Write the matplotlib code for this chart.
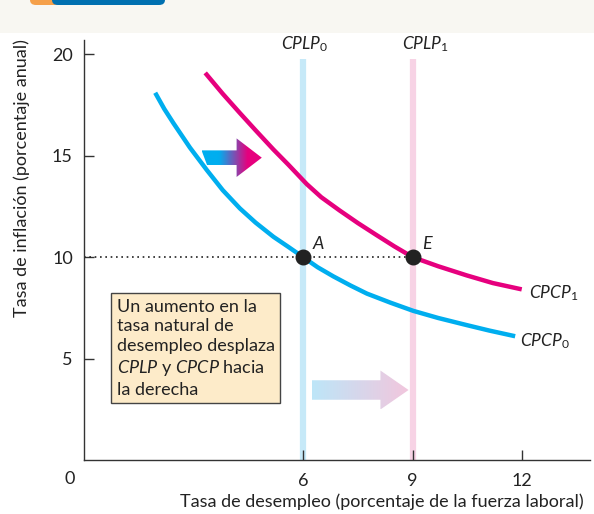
import numpy as np
import matplotlib
matplotlib.use("Agg")
import matplotlib.pyplot as plt
from matplotlib.patches import Polygon, Rectangle, FancyBboxPatch
from matplotlib.colors import LinearSegmentedColormap

plt.rcParams['font.family'] = ['Lato', 'DejaVu Sans']
plt.rcParams['mathtext.fontset'] = 'custom'
plt.rcParams['mathtext.it'] = 'Lato:italic'
plt.rcParams['mathtext.rm'] = 'Lato'

# curves
cpcp0_x = [1.95, 2.2, 2.45, 2.9, 3.36, 3.8, 4.27, 4.7, 5.19, 5.6, 6.0,
           6.4, 6.83, 7.3, 7.75, 8.4, 9.02, 9.7, 10.48, 11.1, 11.81]
cpcp0_y = [18.1, 17.3, 16.6, 15.4, 14.3, 13.3, 12.4, 11.7, 11.0, 10.5, 10.0,
           9.5, 9.05, 8.6, 8.2, 7.75, 7.35, 7.0, 6.65, 6.38, 6.1]
cpcp1_x = [3.32, 3.8, 4.27, 4.7, 5.19, 5.6, 6.1, 6.5, 7.0, 7.5, 8.0,
           8.5, 9.0, 9.7, 10.48, 11.2, 11.99]
cpcp1_y = [19.08, 18.05, 17.1, 16.25, 15.3, 14.55, 13.6, 12.95, 12.3, 11.68, 11.1,
           10.53, 10.0, 9.55, 9.1, 8.72, 8.41]
cplp = [6, 9]
points_x = [6, 9]
points_y = [10, 10]
point_labels = ['A', 'E']
yticks = [5, 10, 15, 20]
xticks = [6, 9, 12]

blue = '#00aeef'
magenta = '#e6007e'
ink = '#222222'

fig = plt.figure(figsize=(5.94, 5.14), dpi=100)
# top strip of the page
fig.patches.append(Rectangle((0, 1 - 33/514), 1, 33/514, transform=fig.transFigure,
                             facecolor='#f8f7f2', edgecolor='none', zorder=0))
fig.patches.append(FancyBboxPatch((30/594, 1 - 5/514), 30/594, 12/514, transform=fig.transFigure,
                                  boxstyle='round,pad=0,rounding_size=0.01',
                                  facecolor='#f5a04a', edgecolor='none', zorder=1))
fig.patches.append(FancyBboxPatch((52/594, 1 - 5/514), 113/594, 12/514, transform=fig.transFigure,
                                  boxstyle='round,pad=0,rounding_size=0.01',
                                  facecolor='#0070b0', edgecolor='none', zorder=1))

ax = fig.add_axes([84/594, 54/514, 506/594, 420/514])
ax.patch.set_alpha(0)
for s in ['top', 'right']:
    ax.spines[s].set_visible(False)
for s in ['left', 'bottom']:
    ax.spines[s].set_color('#333333')
    ax.spines[s].set_linewidth(1.0)

ax.set_yticks(yticks)
ax.set_xticks(xticks)
ax.tick_params(direction='in', length=7, width=1, color='#333333', labelsize=13,
               labelcolor=ink, pad=8)
ax.tick_params(axis='x', pad=9)
ax.text(-0.4, -0.95, '0', fontsize=13, color=ink, ha='center', va='center',
        clip_on=False)

# long-run Phillips curves
ax.vlines(cplp[0], 0, 19.75, color='#c6e9f8', lw=4.5, zorder=1)
ax.vlines(cplp[1], 0, 19.75, color='#f7d3e5', lw=4.5, zorder=1)
ax.text(cplp[0] + 0.05, 20.0, r'$\mathit{CPLP}_0$', fontsize=12.5, ha='center',
        va='bottom', color=ink)
ax.text(cplp[1] + 0.35, 20.0, r'$\mathit{CPLP}_1$', fontsize=12.5, ha='center',
        va='bottom', color=ink)

# short-run curves
ax.plot(cpcp0_x, cpcp0_y, color=blue, lw=3.2, solid_capstyle='butt',
        solid_joinstyle='round', zorder=3)
ax.plot(cpcp1_x, cpcp1_y, color=magenta, lw=3.2, solid_capstyle='butt',
        solid_joinstyle='round', zorder=3)
ax.text(12.2, 8.2, r'$\mathit{CPCP}_1$', fontsize=12.5, ha='left', va='center', color=ink)
ax.text(11.95, 5.85, r'$\mathit{CPCP}_0$', fontsize=12.5, ha='left', va='center', color=ink)

# dotted line and points
ax.plot([0, points_x[1]], [10, 10], color=ink, lw=1.2, ls=(0, (1, 2.2)), zorder=2)
ax.scatter(points_x, points_y, s=110, color=ink, zorder=5)
for px, py, lab in zip(points_x, points_y, point_labels):
    ax.text(px + 0.25, py + 0.25, lab, fontsize=13, style='italic', ha='left',
            va='bottom', color=ink)


def grad_arrow(x0, x1, x2, yc, hb, hh, colors, slant=0.0):
    verts = [(x0, yc + hb), (x1, yc + hb), (x1, yc + hh), (x2, yc),
             (x1, yc - hh), (x1, yc - hb), (x0 + slant, yc - hb)]
    poly = Polygon(verts, closed=True, facecolor='none', edgecolor='none')
    ax.add_patch(poly)
    cmap = LinearSegmentedColormap.from_list('g', colors)
    im = ax.imshow(np.linspace(0, 1, 256).reshape(1, -1), cmap=cmap, aspect='auto',
                   extent=[x0, x2, yc - hh, yc + hh], zorder=4, interpolation='bilinear')
    im.set_clip_path(poly)


grad_arrow(3.22, 4.18, 4.87, 14.9, 0.36, 0.95,
           [(0, blue), (0.28, blue), (0.75, magenta), (1, magenta)], slant=0.15)
grad_arrow(6.24, 8.12, 8.89, 3.45, 0.48, 0.96,
           [(0, '#bde6f8'), (1, '#f2c6dd')])
ax.set_xlim(0, 13.86)
ax.set_ylim(0, 20.7)

# text box
ax.text(0.9, 7.95,
        'Un aumento en la\ntasa natural de\ndesempleo desplaza\n'
        r'$\mathit{CPLP}$ y $\mathit{CPCP}$ hacia' '\nla derecha',
        fontsize=13, ha='left', va='top', color=ink, linespacing=1.28,
        bbox=dict(boxstyle='square,pad=0.3', facecolor='#fdebc9', edgecolor='#444444',
                  lw=1.0))

fig.text(22/594, 1 - 178/514, 'Tasa de inflación (porcentaje anual)', rotation=90,
         fontsize=13, ha='center', va='center', color=ink)
fig.text(382/594, 1 - 502/514, 'Tasa de desempleo (porcentaje de la fuerza laboral)',
         fontsize=13, ha='center', va='center', color=ink)

fig.savefig('out.png', dpi=100)
